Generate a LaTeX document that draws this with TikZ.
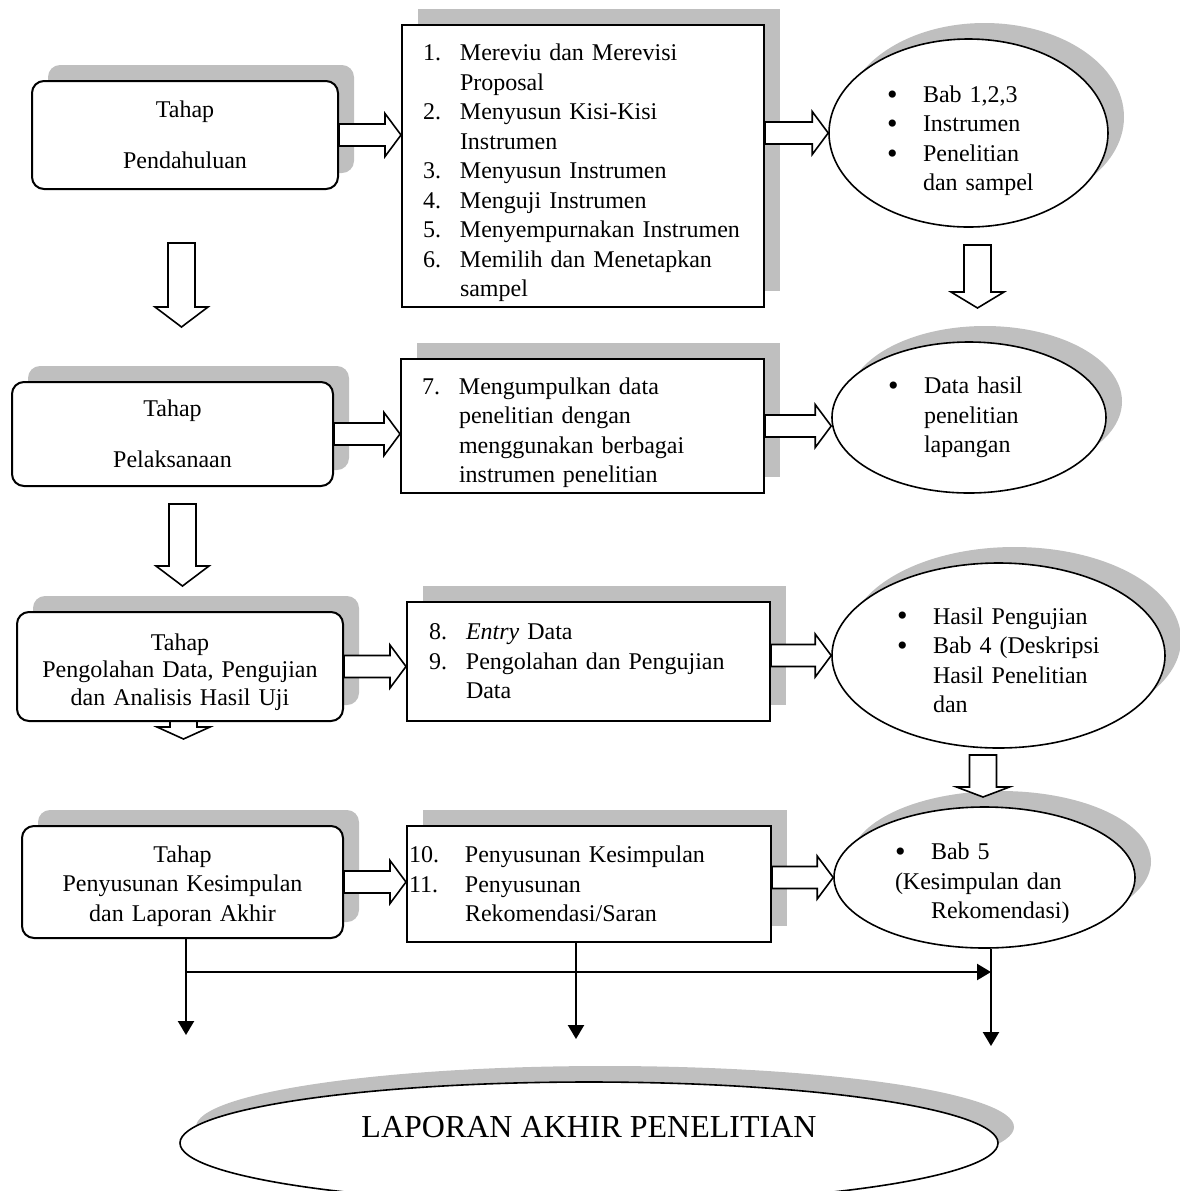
\documentclass[tikz,border=0pt]{standalone}
\usepackage{fontspec}
\setmainfont{Liberation Serif}
\usetikzlibrary{shapes.geometric, arrows.meta, calc, backgrounds}
\definecolor{shadowgray}{RGB}{191,191,191}
\tikzset{
	grayshadow/.style={preaction={fill=shadowgray, draw=none, transform canvas={shift={(8pt,8pt)}}}}, % flat grey shadow up right
	tahap/.style={draw, fill=white, line width=1pt, rounded corners=6pt, align=center, grayshadow}, % the stage boxes on the left
	kegiatan/.style={draw, fill=white, line width=1pt, align=left, inner ysep=0pt, grayshadow}, % numbered activity boxes
	hasil/.style={draw, ellipse, fill=white, line width=0.8pt, align=left, inner sep=0pt, grayshadow}, % result ovals
	blockarrow/.style={draw, fill=white, line width=0.8pt}, % hollow block arrows
	flow/.style={line width=1.2pt, -{Triangle[length=7pt,width=8pt]}}, % thin connectors at the bottom
}
\newcommand{\nomor}[1]{\makebox[18.5pt][l]{#1}}
\newcommand{\lanjut}{\hspace*{18.5pt}}
\newcommand{\butir}{\makebox[18pt][l]{\raisebox{-0.8pt}{\fontsize{15}{15}\selectfont\textbullet}}}
\newcommand{\ruang}[1]{\rule{0pt}{#1}} % taller first line pushes the text down
% hollow arrow pointing right, from #1 to the x of #2
\newcommand{\hblock}[2]{%
	\draw[blockarrow] let \p1=(#1), \p2=(#2) in
		(\x1,{\y1+5.5pt}) -- ({\x2-8pt},{\y1+5.5pt}) -- ({\x2-8pt},{\y1+10.75pt}) -- (\x2,\y1)
		-- ({\x2-8pt},{\y1-10.75pt}) -- ({\x2-8pt},{\y1-5.5pt}) -- (\x1,{\y1-5.5pt}) -- cycle;}
% hollow arrow pointing down, from #2 to #3, head length #1
\newcommand{\vblock}[3][10pt]{%
	\draw[blockarrow] let \p1=(#2), \p2=(#3) in
		({\x1-6.75pt},\y1) -- ({\x1-6.75pt},{\y2+#1}) -- ({\x1-13.25pt},{\y2+#1}) -- (\x1,\y2)
		-- ({\x1+13.25pt},{\y2+#1}) -- ({\x1+6.75pt},{\y2+#1}) -- ({\x1+6.75pt},\y1) -- cycle;}

\begin{document}
\begin{tikzpicture}[x=0.5pt, y=-0.5pt, font=\fontsize{12}{14.75}\selectfont]
	\useasboundingbox (0,0) rectangle (1180,1191);

	% points for the free arrows
	\coordinate (p1a) at (181.5,243); \coordinate (p1b) at (181.5,327);
	\coordinate (p2a) at (182.5,504); \coordinate (p2b) at (182.5,586);
	\coordinate (p3a) at (183.5,700); \coordinate (p3b) at (183.5,739);
	\coordinate (p4a) at (977.5,245); \coordinate (p4b) at (977.5,308);
	\coordinate (p5a) at (983,755);   \coordinate (p5b) at (983,797);
	\coordinate (t1) at (186,1035);
	\coordinate (t2) at (576,1039);
	\coordinate (t3) at (991,1046);
	\coordinate (sp) at (186,972);

	% stages
	\node[tahap, minimum width=153pt, minimum height=54pt] (tahap1) at (185,135) {Tahap\\[11pt]Pendahuluan};
	\node[tahap, minimum width=160.5pt, minimum height=52pt] (tahap2) at (172.5,434) {Tahap\\[11pt]Pelaksanaan};
	\node[tahap, text width=150pt, minimum width=163pt, minimum height=54.5pt, font=\fontsize{12}{13.75}\selectfont] (tahap3) at (180,666.5)
		{\ruang{13.7pt}Tahap\\Pengolahan Data, Pengujian\\dan Analisis Hasil Uji};
	\node[tahap, text width=150pt, minimum width=160.5pt, minimum height=56pt] (tahap4) at (182.5,882)
		{\ruang{12.2pt}Tahap\\Penyusunan Kesimpulan\\dan Laporan Akhir};

	% activities
	\node[kegiatan, inner xsep=10.5pt, text width=160pt, minimum height=141pt] (keg1) at (583,166) {%
		\ruang{15.2pt}\nomor{1.}Mereviu dan Merevisi\\
		\lanjut Proposal\\
		\nomor{2.}Menyusun Kisi-Kisi\\
		\lanjut Instrumen\\
		\nomor{3.}Menyusun Instrumen\\
		\nomor{4.}Menguji Instrumen\\
		\nomor{5.}Menyempurnakan Instrumen\\
		\nomor{6.}Memilih dan Menetapkan\\
		\lanjut sampel};
	\node[kegiatan, inner xsep=10.5pt, text width=160.5pt, minimum height=67pt] (keg2) at (582.5,426) {%
		\ruang{15.2pt}\nomor{7.}Mengumpulkan data\\
		\lanjut penelitian dengan\\
		\lanjut menggunakan berbagai\\
		\lanjut instrumen penelitian};
	\node[kegiatan, inner xsep=11pt, text width=159.5pt, minimum height=59.5pt] (keg3) at (588.5,661.5) {%
		\nomor{8.}\textit{Entry} Data\\
		\nomor{9.}Pengolahan dan Pengujian\\
		\lanjut Data};
	\node[kegiatan, inner xsep=1pt, text width=180pt, minimum height=58pt] (keg4) at (589,884) {%
		\makebox[28pt][l]{10.}Penyusunan Kesimpulan\\
		\makebox[28pt][l]{11.}Penyusunan\\
		\hspace*{28pt}Rekomendasi/Saran};

	% results
	\node[hasil, text width=81.5pt, minimum width=139.5pt, minimum height=94pt] (hasil1) at (968.5,133) {%
		\ruang{16.2pt}\butir Bab 1,2,3\\
		\butir Instrumen\\
		\butir Penelitian\\
		\hspace*{18pt}dan sampel};
	\node[hasil, text width=81pt, minimum width=137pt, minimum height=75.5pt] (hasil2) at (969,417.5) {%
		\butir Data hasil\\
		\hspace*{18pt}penelitian\\
		\hspace*{18pt}lapangan};
	\node[hasil, text width=101.5pt, minimum width=166.5pt, minimum height=92.5pt] (hasil3) at (998.5,655.5) {%
		\ruang{13.2pt}\butir Hasil Pengujian\\
		\butir Bab 4 (Deskripsi\\
		\hspace*{18pt}Hasil Penelitian\\
		\hspace*{18pt}dan};
	\node[hasil, text width=89.5pt, minimum width=150.5pt, minimum height=70.5pt] (hasil4) at (984.5,877.5) {%
		\ruang{14.2pt}\butir Bab 5\\
		(Kesimpulan dan\\
		\hspace*{18pt}Rekomendasi)};

	% final report
	\node[hasil, minimum width=409pt, minimum height=61pt] (laporan) at (589,1143) {};
	\node[font=\fontsize{16}{19}\selectfont] (laporanteks) at (589,1127) {LAPORAN AKHIR PENELITIAN};

	% block arrows
	\hblock{tahap1.east}{keg1.west |- tahap1.east}
	\hblock{keg1.east |- hasil1.west}{hasil1.west}
	\hblock{tahap2.east}{keg2.west |- tahap2.east}
	\hblock{keg2.east}{hasil2.west |- keg2.east}
	\hblock{tahap3.east}{keg3.west |- tahap3.east}
	\hblock{keg3.east |- hasil3.west}{hasil3.west}
	\hblock{tahap4.east}{keg4.west |- tahap4.east}
	\hblock{keg4.east |- hasil4.west}{hasil4.west}
	\vblock{p1a}{p1b}
	\vblock{p2a}{p2b}
	\begin{scope}[on background layer]
		\vblock[6pt]{p3a}{p3b}
	\end{scope}
	\vblock[8pt]{p4a}{p4b}
	\vblock[5pt]{p5a}{p5b}

	% connectors to the report
	\draw[flow] (tahap4.south -| t1) -- (t1);
	\draw[flow] (sp) -- (sp -| t3);
	\draw[flow] (keg4.south -| t2) -- (t2);
	\draw[flow] (hasil4.south -| t3) -- (t3);
\end{tikzpicture}
\end{document}
